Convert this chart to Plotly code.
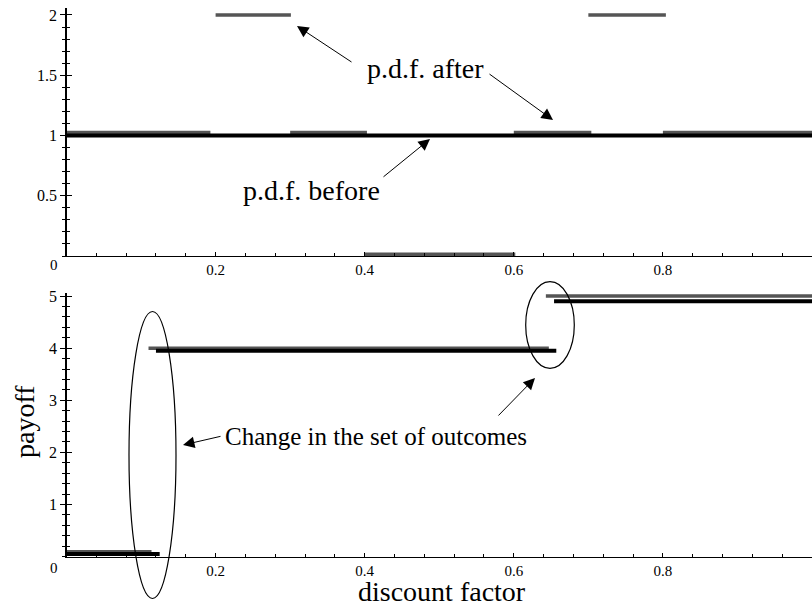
import plotly.graph_objects as go

W, H = 812, 609

# ---------------- data ----------------
# top panel: probability density of the discount factor
pdf_before_start = [0.0]
pdf_before_end = [1.0]
pdf_before_val = [1.0]

pdf_after_start = [0.0, 0.2, 0.3, 0.4, 0.6, 0.7, 0.8]
pdf_after_end = [0.193, 0.301, 0.403, 0.602, 0.704, 0.804, 1.0]
pdf_after_val = [1.025, 2.0, 1.025, 0.015, 1.025, 2.0, 1.025]

# bottom panel: payoff as a function of the discount factor
payoff_before_start = [0.0, 0.12, 0.654]
payoff_before_end = [0.125, 0.657, 1.0]
payoff_before_val = [0.05, 3.95, 4.9]

payoff_after_start = [0.0, 0.11, 0.643]
payoff_after_end = [0.114, 0.647, 1.0]
payoff_after_val = [0.09, 4.0, 5.0]

x_tickvals = [0.2, 0.4, 0.6, 0.8, 1.0]
x_ticktext = ["0.2", "0.4", "0.6", "0.8", "1"]
pdf_tickvals = [0.5, 1.0, 1.5, 2.0]
pdf_ticktext = ["0.5", "1", "1.5", "2"]
payoff_tickvals = [1, 2, 3, 4, 5]
payoff_ticktext = ["1", "2", "3", "4", "5"]

# ---------------- layout geometry ----------------
X_DOM = [66.5 / W, 1.0]
Y1_DOM = [1 - 256.0 / H, 1 - 8.0 / H]
Y2_DOM = [1 - 556.5 / H, 1 - 293.0 / H]
Y1_RANGE = [0, 2.058]
Y2_RANGE = [0, 5.06]

FONT = "Liberation Serif"
GRAY = "#555555"


def segments(starts, ends, vals):
    xs, ys = [], []
    for a, b, v in zip(starts, ends, vals):
        xs += [a, b, None]
        ys += [v, v, None]
    return xs, ys


def P(xp, yp):
    """pixel -> paper"""
    return xp / W, 1 - yp / H


fig = go.Figure()

x, y = segments(pdf_after_start, pdf_after_end, pdf_after_val)
fig.add_trace(go.Scatter(x=x, y=y, mode="lines", xaxis="x", yaxis="y",
                         line=dict(color=GRAY, width=3.5), name="p.d.f. after",
                         showlegend=False))
x, y = segments(pdf_before_start, pdf_before_end, pdf_before_val)
fig.add_trace(go.Scatter(x=x, y=y, mode="lines", xaxis="x", yaxis="y",
                         line=dict(color="black", width=4), name="p.d.f. before",
                         showlegend=False))
x, y = segments(payoff_after_start, payoff_after_end, payoff_after_val)
fig.add_trace(go.Scatter(x=x, y=y, mode="lines", xaxis="x2", yaxis="y2",
                         line=dict(color=GRAY, width=3.5), name="payoff after",
                         showlegend=False))
x, y = segments(payoff_before_start, payoff_before_end, payoff_before_val)
fig.add_trace(go.Scatter(x=x, y=y, mode="lines", xaxis="x2", yaxis="y2",
                         line=dict(color="black", width=4), name="payoff before",
                         showlegend=False))

# empty helper traces so that the overlaid tick axes (inner half of the
# crossing ticks) get drawn
for xa, ya in [("x", "y3"), ("x2", "y4")]:
    fig.add_trace(go.Scatter(x=[None], y=[None], xaxis=xa, yaxis=ya, mode="lines",
                             showlegend=False, hoverinfo="skip"))

tickfont_x = dict(family=FONT, size=15, color="black")
tickfont_y = dict(family=FONT, size=16, color="black")

common_x = dict(domain=X_DOM, range=[0, 1], tickmode="array", tickvals=x_tickvals,
                ticktext=x_ticktext, ticks="inside", ticklen=4, tickwidth=1,
                tickcolor="black", showline=True, linecolor="black", linewidth=1.3,
                showgrid=False, zeroline=False, tickfont=tickfont_x, automargin=False,
                minor=dict(dtick=0.04, tick0=0, ticks="inside", ticklen=3,
                           tickwidth=1, tickcolor="black", showgrid=False),
                fixedrange=True)


def yax(dom, rng, tv, tt, mdt, side_ticks, labels, overlay=None, anchor="x"):
    d = dict(range=rng, tickmode="array", tickvals=tv, ticktext=tt,
             ticks=side_ticks, ticklen=5, tickwidth=1, tickcolor="black",
             showgrid=False, zeroline=False, tickfont=tickfont_y,
             automargin=False, anchor=anchor, showticklabels=labels,
             minor=dict(dtick=mdt, tick0=0, ticks=side_ticks, ticklen=3,
                        tickwidth=1, tickcolor="black", showgrid=False),
             fixedrange=True)
    if overlay is None:
        d.update(domain=dom, showline=True, linecolor="black", linewidth=1.3)
    else:
        d.update(overlaying=overlay, showline=False, side="left")
    return d


fig.update_layout(
    width=W, height=H,
    margin=dict(l=0, r=0, t=0, b=0),
    paper_bgcolor="white", plot_bgcolor="white",
    showlegend=False,
    xaxis=dict(anchor="y", **common_x),
    xaxis2=dict(anchor="y2", **common_x),
    yaxis=yax(Y1_DOM, Y1_RANGE, pdf_tickvals, pdf_ticktext, 0.1, "outside", True, anchor="x"),
    yaxis3=yax(Y1_DOM, Y1_RANGE, pdf_tickvals, pdf_ticktext, 0.1, "inside", False,
               overlay="y", anchor="x"),
    yaxis2=yax(Y2_DOM, Y2_RANGE, payoff_tickvals, payoff_ticktext, 0.2, "outside", True, anchor="x2"),
    yaxis4=yax(Y2_DOM, Y2_RANGE, payoff_tickvals, payoff_ticktext, 0.2, "inside", False,
               overlay="y2", anchor="x2"),
    font=dict(family=FONT, color="black"),
)

annotations = []


def text(s, xp, yp, size, angle=0):
    px, py = P(xp, yp)
    annotations.append(dict(text=s, x=px, y=py, xref="paper", yref="paper",
                            xanchor="center", yanchor="middle", showarrow=False,
                            textangle=angle,
                            font=dict(family=FONT, size=size, color="black")))


def arrow(tip, tail):
    px, py = P(*tip)
    annotations.append(dict(text="", x=px, y=py, xref="paper", yref="paper",
                            ax=tail[0] - tip[0], ay=tail[1] - tip[1],
                            axref="pixel", ayref="pixel",
                            showarrow=True, arrowhead=2, arrowsize=2.3,
                            arrowwidth=1, arrowcolor="black", standoff=0))


# origin labels
text("0", 54, 265, 15)
text("0", 54, 568, 15)

# annotation texts
text("p.d.f. after", 425, 69, 28)
text("p.d.f. before", 311, 191, 28)
text("Change in the set of outcomes", 376, 436, 25)
text("discount factor", 442, 591, 28)
text("payoff", 24, 422, 28, angle=-90)

# arrows
arrow((297, 26), (353, 63))
arrow((553, 120), (488, 73))
arrow((430, 139), (382, 178))
arrow((183, 445), (222, 436))
arrow((535, 378), (497, 417))

fig.update_layout(annotations=annotations)

# ellipses around the changes
shapes = []
for cx, cy, rx, ry in [(152.5, 455, 23.5, 143.5), (550, 325, 24.3, 43.3)]:
    x0, y1 = P(cx - rx, cy - ry)
    x1, y0 = P(cx + rx, cy + ry)
    shapes.append(dict(type="circle", xref="paper", yref="paper",
                       x0=x0, x1=x1, y0=y0, y1=y1,
                       line=dict(color="black", width=1.2)))
fig.update_layout(shapes=shapes)

fig.write_html("out.html",
               config={"displayModeBar": False, "staticPlot": True},
               post_script="document.body.style.margin='0px';"
                           "document.body.style.overflow='hidden';")
